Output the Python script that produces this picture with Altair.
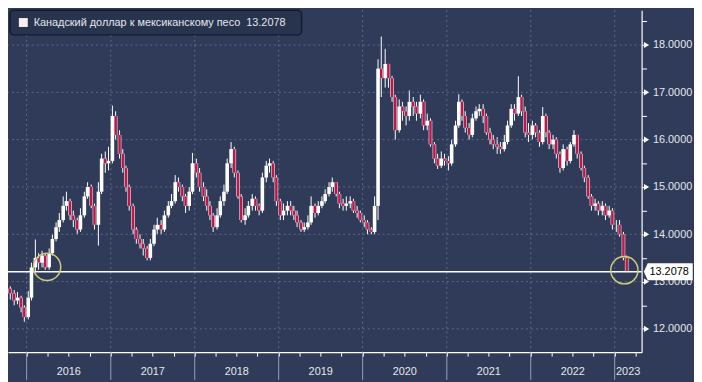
import altair as alt
import pandas as pd

TITLE = "Канадский доллар к мексиканскому песо"
LAST = 13.2078
FIRST_OPEN = 12.85

# semi-monthly candles, Oct 2015 .. Feb 2023
closes = [
    12.75, 12.60, 12.66, 12.45, 12.25,
    12.66, 13.30, 13.50, 13.40, 13.55, 13.30, 13.60, 13.90, 14.15, 14.30, 14.60, 14.70,
    14.40, 14.30, 14.10, 14.40, 14.80, 15.00, 14.60, 14.20, 14.90, 15.60, 15.50, 15.55,
    16.50, 16.10, 15.70, 15.40, 15.00, 14.60, 14.10, 13.90, 13.80, 13.70, 13.50, 13.80,
    14.10, 14.20, 14.10, 14.40, 14.60, 14.70, 15.10, 15.00, 14.80, 14.60, 14.90, 15.50,
    15.30, 15.00, 14.80, 14.60, 14.40, 14.15, 14.40, 14.70, 14.90, 15.50, 15.80, 15.30,
    14.80, 14.30, 14.40, 14.60, 14.75, 14.60, 14.50, 15.20, 15.45, 15.50, 15.20, 14.70,
    14.40, 14.50, 14.60, 14.50, 14.40, 14.25, 14.10, 14.15, 14.25, 14.60, 14.45, 14.60,
    14.70, 14.85, 15.00, 15.10, 14.85, 14.65, 14.60, 14.65, 14.70, 14.50, 14.45, 14.30,
    14.25, 14.10, 14.05, 14.60, 17.50, 17.30, 17.60, 17.30, 16.90, 16.20, 16.70, 16.60,
    16.50, 16.80, 16.70, 16.55, 16.80, 16.30, 16.40, 15.90, 15.60, 15.45, 15.60, 15.55,
    15.50, 15.90, 16.30, 16.80, 16.50, 16.25, 16.10, 16.45, 16.60, 16.65, 16.50, 16.15,
    16.00, 15.90, 15.85, 15.80, 15.95, 16.30, 16.65, 16.55, 16.90, 16.60, 16.15, 16.10,
    16.30, 16.15, 15.95, 16.50, 16.15, 15.90, 16.00, 15.70, 15.40, 15.80, 15.55, 15.90,
    16.10, 15.70, 15.40, 15.20, 14.80, 14.60, 14.65, 14.50, 14.60, 14.40, 14.50, 14.20,
    14.20, 14.00, 13.50, 13.2078,
]
highs = [
    12.90, 12.82, 12.78, 12.70, 12.50,
    12.80, 13.40, 13.89, 13.60, 13.65, 13.60, 13.70, 14.00, 14.25, 14.45, 14.80, 14.90,
    14.75, 14.50, 14.35, 14.55, 14.90, 15.10, 15.05, 14.65, 15.10, 15.70, 15.75, 15.85,
    16.72, 16.60, 16.20, 15.80, 15.45, 15.05, 14.65, 14.15, 14.00, 13.90, 13.75, 13.90,
    14.20, 14.35, 14.30, 14.50, 14.70, 14.85, 15.25, 15.20, 15.05, 14.85, 15.00, 15.72,
    15.60, 15.40, 15.10, 14.95, 14.70, 14.45, 14.55, 14.80, 15.05, 15.60, 15.95, 15.85,
    15.35, 14.85, 14.55, 14.70, 14.85, 14.80, 14.65, 15.30, 15.55, 15.60, 15.55, 15.25,
    14.75, 14.65, 14.70, 14.70, 14.60, 14.50, 14.30, 14.25, 14.40, 14.80, 14.65, 14.70,
    14.80, 14.95, 15.10, 15.20, 15.10, 14.90, 14.75, 14.80, 14.80, 14.75, 14.60, 14.50,
    14.40, 14.30, 14.15, 14.80, 17.70, 18.18, 17.92, 17.60, 17.35, 16.95, 16.85, 16.80,
    16.70, 17.04, 16.90, 16.80, 16.95, 16.85, 16.55, 16.45, 15.95, 15.70, 15.75, 15.70,
    15.65, 16.00, 16.40, 16.96, 16.85, 16.60, 16.35, 16.55, 16.70, 16.75, 16.75, 16.55,
    16.25, 16.10, 16.05, 15.95, 16.10, 16.40, 16.75, 16.75, 17.34, 16.95, 16.70, 16.35,
    16.40, 16.35, 16.20, 16.69, 16.55, 16.20, 16.10, 16.05, 15.75, 15.90, 15.85, 15.95,
    16.20, 16.10, 15.75, 15.45, 15.25, 14.85, 14.75, 14.70, 14.70, 14.65, 14.60, 14.55,
    14.30, 14.30, 14.05, 13.55,
]
lows = [
    12.62, 12.50, 12.52, 12.35, 12.15,
    12.20, 12.60, 13.20, 13.25, 13.30, 13.25, 13.25, 13.55, 13.85, 14.05, 14.25, 14.50,
    14.30, 14.15, 14.00, 14.05, 14.35, 14.75, 14.55, 14.10, 13.76, 14.85, 15.30, 15.35,
    15.50, 16.00, 15.60, 15.30, 14.90, 14.50, 14.00, 13.80, 13.70, 13.55, 13.45, 13.45,
    13.75, 14.00, 14.00, 14.05, 14.35, 14.55, 14.65, 14.90, 14.70, 14.45, 14.50, 14.85,
    15.20, 14.90, 14.70, 14.50, 14.30, 14.05, 14.10, 14.35, 14.60, 14.85, 15.40, 15.20,
    14.75, 14.25, 14.20, 14.35, 14.50, 14.50, 14.40, 14.45, 15.10, 15.30, 15.10, 14.60,
    14.30, 14.30, 14.40, 14.40, 14.30, 14.15, 14.05, 14.05, 14.10, 14.20, 14.35, 14.40,
    14.55, 14.65, 14.80, 14.90, 14.80, 14.55, 14.50, 14.50, 14.55, 14.45, 14.35, 14.25,
    14.15, 14.00, 14.00, 14.00, 14.30, 16.90, 17.10, 17.10, 16.80, 16.00, 16.15, 16.40,
    16.30, 16.40, 16.50, 16.40, 16.45, 16.20, 16.20, 15.85, 15.50, 15.38, 15.40, 15.45,
    15.35, 15.45, 15.85, 16.25, 16.40, 16.15, 16.00, 16.05, 16.40, 16.50, 16.35, 16.10,
    15.90, 15.80, 15.70, 15.70, 15.75, 15.90, 16.25, 16.40, 16.50, 16.50, 16.05, 15.95,
    16.00, 16.05, 15.85, 15.90, 16.05, 15.80, 15.80, 15.60, 15.30, 15.35, 15.45, 15.50,
    15.85, 15.60, 15.35, 15.10, 14.75, 14.50, 14.50, 14.40, 14.40, 14.30, 14.35, 14.10,
    14.05, 13.95, 13.45, 13.20,
]

years = [2016, 2017, 2018, 2019, 2020, 2021, 2022, 2023]
y_ticks = [12, 13, 14, 15, 16, 17, 18]
circle_dates = ["2016-03-30", "2023-02-12"]
circle_vals = [13.31, 13.24]

# ---- layout ----
W, H = 641, 346
BG = "#2f3b59"
RED = "#c0174a"
TXT = "#e4e7ee"
FONT = "Liberation Sans"
DOM0 = pd.Timestamp("2015-10-12")
DOM1 = pd.Timestamp("2023-04-28")

dates = pd.date_range("2015-10-15", periods=len(closes), freq="SMS") + pd.Timedelta(days=7)
opens = [FIRST_OPEN] + closes[:-1]
df = pd.DataFrame({"date": dates, "open": opens, "close": closes, "high": highs, "low": lows})
df["down"] = df["close"] < df["open"]

x_scale = alt.Scale(domain=[alt.DateTime(year=2015, month=10, date=12),
                            alt.DateTime(year=2023, month=4, date=28)], nice=False)
y_scale = alt.Scale(domain=[11.508, 18.737], nice=False, zero=False)

quarters = [alt.DateTime(year=y, month=m, date=1) for y in years for m in (1, 4, 7, 10)
            if pd.Timestamp(year=y, month=m, day=1) <= DOM1]

X_AX = alt.Axis(values=quarters, labels=False, ticks=True, tickSize=4,
                tickColor="white", domainColor="white", domainWidth=1.2,
                grid=False, title=None, orient="bottom")
Y_AX = alt.Axis(orient="right", values=[11.5 + 0.5 * i for i in range(15)],
                labelExpr="datum.value % 1 == 0 ? format(datum.value, '.4f') : ''",
                tickSize=5, tickColor="white", domainColor="white", domainWidth=1.2,
                labelColor=TXT, labelFontSize=11, labelFont=FONT, labelPadding=6,
                grid=False, title=None)


def X(field="date"):
    return alt.X(f"{field}:T", scale=x_scale, axis=X_AX)


def Y(field):
    return alt.Y(f"{field}:Q", scale=y_scale, axis=Y_AX)


year_df = pd.DataFrame({"date": [pd.Timestamp(year=y, month=1, day=1) for y in years]})
mids = []
for y in years:
    a = max(pd.Timestamp(year=y, month=1, day=1), DOM0)
    b = min(pd.Timestamp(year=y + 1, month=1, day=1), DOM1)
    mids.append(a + (b - a) / 2)
label_df = pd.DataFrame({"date": mids, "label": [str(y) for y in years]})

wicks = alt.Chart(df).mark_rule(color="white", strokeWidth=1).encode(
    x=X(), y=Y("low"), y2="high:Q")

grid_h = alt.Chart(pd.DataFrame({"v": y_ticks})).mark_rule(
    color="#5e6a87", strokeDash=[2, 3], strokeWidth=1
).encode(y=Y("v"))

grid_v = alt.Chart(year_df).mark_rule(
    color="#5e6a87", strokeDash=[2, 3], strokeWidth=1
).encode(x=X())

bodies = alt.Chart(df).mark_rule(color="white", strokeWidth=3.6).encode(
    x=X(), y=Y("open"), y2="close:Q")

red_bodies = alt.Chart(df).transform_filter("datum.down").mark_rule(
    color=RED, strokeWidth=2.6).encode(
    x=X(), y=Y("open"), y2="close:Q")

last_df = pd.DataFrame({"v": [LAST], "label": [f"{LAST:.4f}"],
                        "legend": [f"{TITLE}\u00a0\u00a0{LAST:.4f}"]})

last_line = alt.Chart(last_df).mark_rule(color="white", strokeWidth=1.3).encode(y=Y("v"))

circles = alt.Chart(pd.DataFrame({"date": pd.to_datetime(circle_dates), "v": circle_vals})).mark_point(
    shape="circle", filled=False, color="#d2cc78", size=760, strokeWidth=1.5, opacity=1
).encode(x=X(), y=Y("v"))

separators = alt.Chart(year_df).mark_rule(color="#98a1b5", strokeWidth=1).encode(
    x=X(), y=alt.value(H), y2=alt.value(H + 28))

year_labels = alt.Chart(label_df).mark_text(
    font=FONT, fontSize=11, color=TXT, baseline="middle", align="center"
).encode(x=X(), y=alt.value(H + 20), text="label:N")

tri = alt.Chart(pd.DataFrame({"v": y_ticks})).mark_point(
    shape="triangle-right", filled=True, color="white", size=38, opacity=1
).encode(x=alt.value(W + 5), y=Y("v"))

tag_shape = "M-1,0L-0.84,-0.35L1,-0.35L1,0.35L-0.84,0.35Z"
tag = alt.Chart(last_df).mark_point(
    shape=tag_shape, filled=True, color="white", size=2450, opacity=1
).encode(x=alt.value(W + 27), y=Y("v"))

tag_text = alt.Chart(last_df).mark_text(
    font=FONT, fontSize=11, color="black", align="left", baseline="middle"
).encode(x=alt.value(W + 8), y=Y("v"), text="label:N")

legend_box = alt.Chart(last_df).mark_rect(
    fill="#28334e", stroke="#141b2c", strokeWidth=1.5, cornerRadius=4
).encode(x=alt.value(2), x2=alt.value(297), y=alt.value(0), y2=alt.value(25))

legend_sq = alt.Chart(last_df).mark_rect(fill="#fbeef0").encode(
    x=alt.value(11), x2=alt.value(20), y=alt.value(8), y2=alt.value(17))

legend_txt = alt.Chart(last_df).mark_text(
    font=FONT, fontSize=11, color=TXT, align="left", baseline="middle"
).encode(x=alt.value(26), y=alt.value(13), text="legend:N")

chart = alt.layer(
    wicks, grid_h, grid_v, bodies, red_bodies, last_line, circles,
    separators, year_labels, tri, tag, tag_text, legend_box, legend_sq, legend_txt
).properties(
    width=W, height=H,
    autosize=alt.AutoSizeParams(type="none"),
    padding={"left": 0, "top": 0, "right": 53, "bottom": 28},
).configure(
    background=BG, font=FONT
).configure_view(stroke=None)

chart.save("out.html", embed_options={"renderer": "svg", "actions": False})
